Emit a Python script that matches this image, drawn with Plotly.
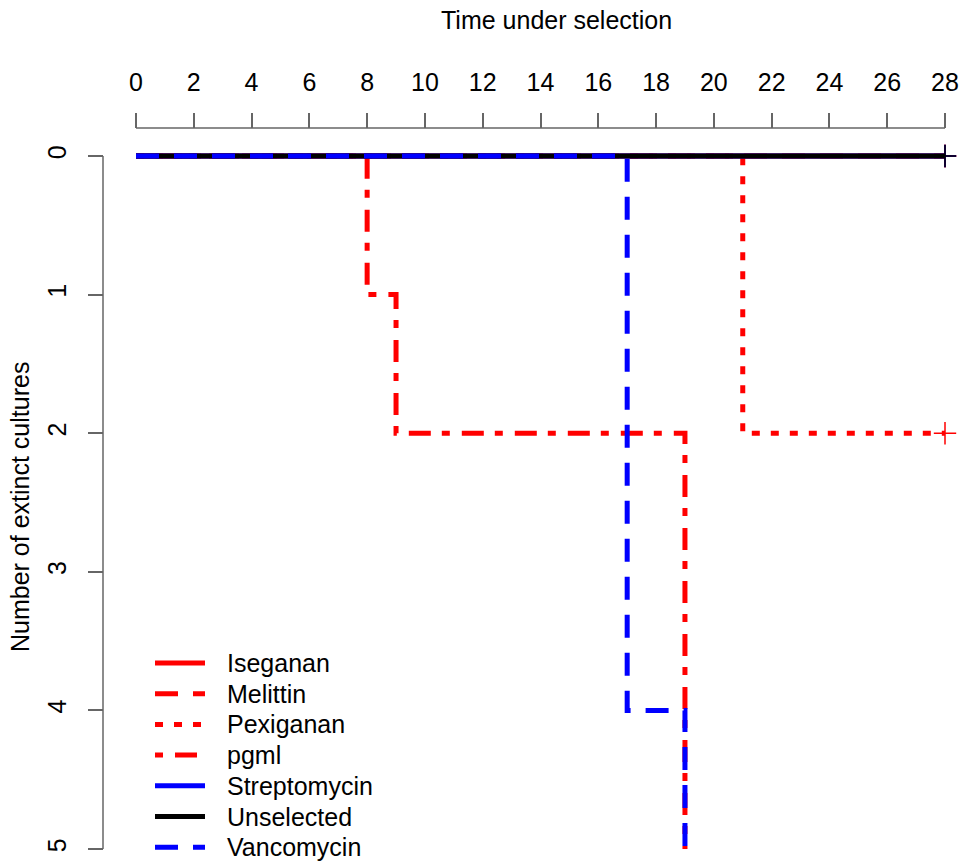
import plotly.graph_objects as go

# ---- data (step survival-style curves: time vs number of extinct cultures) ----
series_names = ["Iseganan", "Melittin", "Pexiganan", "pgml", "Streptomycin", "Unselected", "Vancomycin"]
iseganan_t = [0, 28]
iseganan_n = [0, 0]
melittin_t = [0, 28]
melittin_n = [0, 0]
pexiganan_t = [0, 21, 28]
pexiganan_n = [0, 2, 2]
pgml_t = [0, 8, 9, 19]
pgml_n = [0, 1, 2, 5]
streptomycin_t = [0, 28]
streptomycin_n = [0, 0]
unselected_t = [0, 28]
unselected_n = [0, 0]
vancomycin_t = [0, 17, 19]
vancomycin_n = [0, 4, 5]

# censored marks (+) at end of follow-up
censor_series = ["Iseganan", "Melittin", "Pexiganan", "Streptomycin", "Unselected"]
censor_t = [28, 28, 28, 28, 28]
censor_n = [0, 0, 2, 0, 0]

x_ticks = list(range(0, 29, 2))
y_ticks = [0, 1, 2, 3, 4, 5]

# ---- styles ----
RED, BLUE, BLACK = "#FF0000", "#0000FF", "#000000"
DASHED = "23px,15px"
DOTTED = "8px,11px"
DOTDASH = "8px,12px,22px,11px"
styles = {
    "Iseganan": (RED, "solid"),
    "Melittin": (RED, DASHED),
    "Pexiganan": (RED, DOTTED),
    "pgml": (RED, DOTDASH),
    "Streptomycin": (BLUE, "solid"),
    "Unselected": (BLACK, "solid"),
    "Vancomycin": (BLUE, DASHED),
}
data = {
    "Iseganan": (iseganan_t, iseganan_n),
    "Melittin": (melittin_t, melittin_n),
    "Pexiganan": (pexiganan_t, pexiganan_n),
    "pgml": (pgml_t, pgml_n),
    "Streptomycin": (streptomycin_t, streptomycin_n),
    "Unselected": (unselected_t, unselected_n),
    "Vancomycin": (vancomycin_t, vancomycin_n),
}

FONT = "Liberation Sans, Arial, Helvetica, sans-serif"
FS = 25
LW = 5

fig = go.Figure()
for name in series_names:
    t, n = data[name]
    color, dash = styles[name]
    fig.add_trace(go.Scatter(
        x=t, y=n, mode="lines", name=name, showlegend=False,
        line=dict(color=color, dash=dash, width=LW, shape="hv"),
    ))
    if name in censor_series:
        i = censor_series.index(name)
        fig.add_trace(go.Scatter(
            x=[censor_t[i]], y=[censor_n[i]], mode="markers", showlegend=False,
            cliponaxis=False,
            marker=dict(symbol="cross-thin", size=16, line=dict(color=color, width=1.5)),
        ))

# ---- geometry (pixels) ----
W, H = 960, 862
L, R, T, B = 103, 15, 128, 13
pw, ph = W - L - R, H - T - B
x0_px, x1_px = 136, 945
y0_px, y5_px = 156, 849
ypad = 0.03
upu = (y5_px - y0_px) / 5.0
ytop_px = y0_px - ypad * upu


def px_x(p):
    return (p - L) / pw


def px_y(p):
    return (H - B - p) / ph


shapes = [
    dict(type="line", xref="x", yref="paper", x0=0, x1=28, y0=1, y1=1,
         line=dict(color="#666666", width=1.5)),
    dict(type="line", xref="paper", yref="y", x0=0, x1=0, y0=0, y1=5,
         line=dict(color="#666666", width=1.5)),
]
annotations = [
    dict(text="Time under selection", xref="paper", yref="paper",
         x=px_x(556), y=px_y(20), showarrow=False,
         xanchor="center", yanchor="middle", font=dict(size=FS)),
    dict(text="Number of extinct cultures", xref="paper", yref="paper",
         x=px_x(20), y=px_y(507), showarrow=False, textangle=-90,
         xanchor="center", yanchor="middle", font=dict(size=FS)),
]

# legend (drawn from the series list and styles)
leg_y0, leg_dy = 663, 30.7
for k, name in enumerate(series_names):
    color, dash = styles[name]
    yy = px_y(leg_y0 + k * leg_dy)
    shapes.append(dict(type="line", xref="paper", yref="paper",
                       x0=px_x(155), x1=px_x(205), y0=yy, y1=yy,
                       line=dict(color=color, dash=dash, width=LW)))
    annotations.append(dict(text=name, xref="paper", yref="paper",
                            x=px_x(225), y=yy, showarrow=False,
                            xanchor="left", yanchor="middle", font=dict(size=FS)))

fig.update_layout(
    width=W, height=H,
    margin=dict(l=L, r=R, t=T, b=B, pad=0, autoexpand=False),
    paper_bgcolor="white", plot_bgcolor="white",
    font=dict(family=FONT, size=FS, color="black"),
    showlegend=False,
    xaxis=dict(
        range=[0, 28], domain=[px_x(x0_px), 1], side="top",
        anchor="free", position=1,
        tickvals=x_ticks, ticktext=[str(v) for v in x_ticks],
        ticks="outside", ticklen=15, tickwidth=1.5, tickcolor="#666666",
        showline=False, showgrid=False, zeroline=False,
        tickfont=dict(size=FS), ticklabelstandoff=12, automargin=False,
    ),
    yaxis=dict(
        range=[5, -ypad], domain=[0, px_y(ytop_px)],
        anchor="free", position=0,
        tickvals=y_ticks, ticktext=[str(v) for v in y_ticks], tickangle=-90,
        ticks="outside", ticklen=15, tickwidth=1.5, tickcolor="#666666",
        showline=False, showgrid=False, zeroline=False,
        tickfont=dict(size=FS), ticklabelstandoff=12, automargin=False,
    ),
    shapes=shapes,
    annotations=annotations,
)

fig.write_html(
    "out.html",
    config={"displayModeBar": False},
    post_script="document.body.style.margin='0';document.body.style.overflow='hidden';",
)
